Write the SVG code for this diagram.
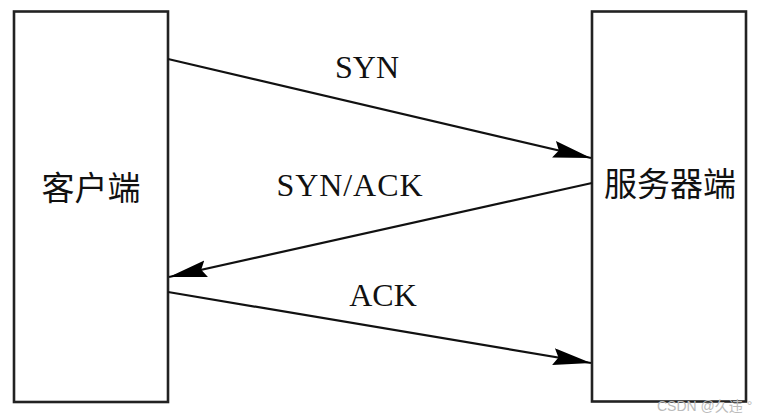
<svg xmlns="http://www.w3.org/2000/svg" width="758" height="417" viewBox="0 0 758 417">
<defs>
<marker id="ah" markerUnits="userSpaceOnUse" markerWidth="40" markerHeight="18" refX="38" refY="8.5" orient="auto">
<path d="M0,0 L38,8.5 L0,17 L5,8.5 z" fill="#000"/>
</marker>
<style>
.box{fill:#fff;stroke:#222;stroke-width:2.6}
.ln{stroke:#111;stroke-width:2.2;fill:none;marker-end:url(#ah)}
.lbl{font-family:"Liberation Serif","Times New Roman",serif;font-size:32px;fill:#111;text-anchor:middle}
.cjk{font-family:"Noto Sans CJK SC","Noto Sans CJK JP",sans-serif;font-size:33px;fill:#111;text-anchor:middle}
.wm{font-family:"Liberation Sans","Noto Sans CJK SC",sans-serif;font-size:14px;fill:#bbb}
</style>
</defs>
<rect width="758" height="417" fill="#fff"/>
<g id="client">
<rect class="box" x="14" y="11.5" width="154" height="390.5"/>
<text class="cjk" x="91" y="200">客户端</text>
</g>
<g id="server">
<rect class="box" x="592" y="11.5" width="154" height="390"/>
<text class="cjk" x="670" y="196">服务器端</text>
</g>
<g id="connectors">
<line class="ln" x1="168" y1="59" x2="591" y2="158"/>
<line class="ln" x1="592" y1="183" x2="169" y2="277"/>
<line class="ln" x1="168" y1="292" x2="591" y2="363"/>
<text class="lbl" x="367" y="78">SYN</text>
<text class="lbl" x="349.5" y="196" textLength="146" lengthAdjust="spacing">SYN/ACK</text>
<text class="lbl" x="383" y="306">ACK</text>
</g>
<text class="wm" x="657" y="411">CSDN @久违 °</text>
</svg>
